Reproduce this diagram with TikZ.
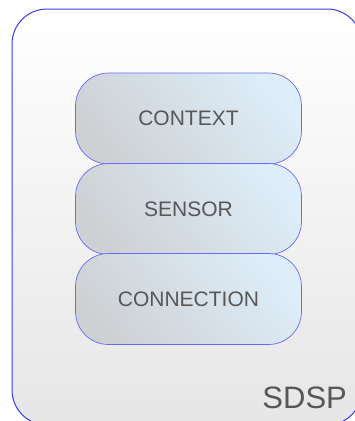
\documentclass[tikz,border=0pt]{standalone}
\usepackage{fontspec}
\setmainfont{Liberation Sans}
\definecolor{frameblue}{HTML}{3A3AF0}
\definecolor{pillblue}{HTML}{6A6AF8}
\definecolor{lightbl}{HTML}{DDEDF9}
\definecolor{midbl}{HTML}{D8E5EE}
\definecolor{pillgray}{HTML}{CED1D4}
\definecolor{txtgray}{HTML}{575757}
\definecolor{framebot}{HTML}{E6E6E6}
\begin{document}
\begin{tikzpicture}[x=1pt,y=-1pt,
  frame/.style={draw=frameblue, line width=1pt, rounded corners=35pt,
    top color=white, bottom color=framebot, minimum width=350pt, minimum height=416pt, inner sep=0pt},
  pill/.style={draw=pillblue, line width=0.7pt, rounded corners=33pt,
    minimum width=226pt, minimum height=91pt, inner sep=0pt,
    top color=lightbl, middle color=midbl, bottom color=pillgray, shading angle=-50,
    text=txtgray, font=\fontsize{21}{25}\selectfont},
  lbl/.style={text=txtgray, font=\fontsize{31}{36}\selectfont, inner sep=0pt}]
\useasboundingbox (0,0) rectangle (355,421);
\node[frame] (outer) at (187,217) {};
\node[pill] (context) at (188.5,118.5) {CONTEXT};
\node[pill] (sensor) at (188.5,209) {SENSOR};
\node[pill] (connection) at (188.5,299) {CONNECTION};
\node[lbl] (sdsp) at (304.7,397.7) {SDSP};
\end{tikzpicture}
\end{document}
